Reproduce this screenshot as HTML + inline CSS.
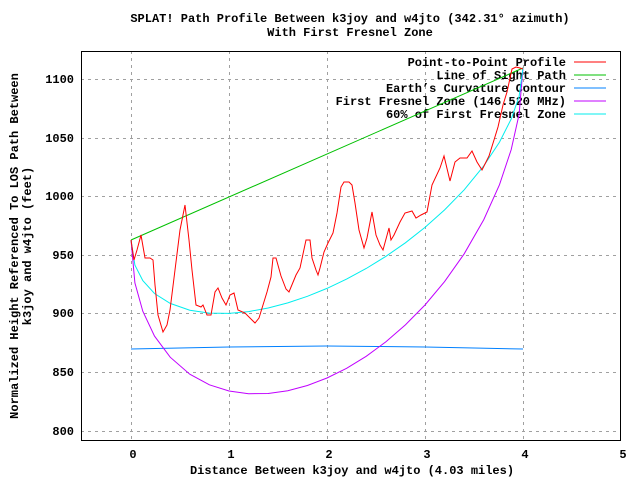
<!DOCTYPE html>
<html><head><meta charset="utf-8"><style>
body{margin:0;background:#fff}
svg text{font-family:"Liberation Mono",monospace;font-size:12px;font-weight:bold;fill:#000}
</style></head><body>
<svg width="640" height="480" xmlns="http://www.w3.org/2000/svg">
<rect width="640" height="480" fill="#fff"/>
<g stroke="#a0a0a0" stroke-dasharray="3,4" stroke-width="1">
<line x1="81" y1="79.5" x2="620" y2="79.5"/><line x1="81" y1="138.5" x2="620" y2="138.5"/>
<line x1="81" y1="196.5" x2="620" y2="196.5"/><line x1="81" y1="255.5" x2="620" y2="255.5"/>
<line x1="81" y1="313.5" x2="620" y2="313.5"/><line x1="81" y1="372.5" x2="620" y2="372.5"/>
<line x1="81" y1="431.5" x2="620" y2="431.5"/>
<line x1="131.5" y1="51" x2="131.5" y2="440"/><line x1="229.5" y1="51" x2="229.5" y2="440"/>
<line x1="327.5" y1="51" x2="327.5" y2="440"/><line x1="425.5" y1="51" x2="425.5" y2="440"/>
<line x1="523.5" y1="51" x2="523.5" y2="440"/>
</g>
<rect x="81.5" y="51.5" width="539" height="389" fill="none" stroke="#000"/>
<g text-anchor="end">
<text x="74" y="83">1100</text><text x="74" y="142">1050</text><text x="74" y="200">1000</text>
<text x="74" y="259">950</text><text x="74" y="317">900</text><text x="74" y="376">850</text><text x="74" y="435">800</text>
</g>
<g text-anchor="middle">
<text x="133" y="458">0</text><text x="231" y="458">1</text><text x="329" y="458">2</text>
<text x="427" y="458">3</text><text x="525" y="458">4</text><text x="623" y="458">5</text>
<text x="350" y="22">SPLAT! Path Profile Between k3joy and w4jto (342.31° azimuth)</text>
<text x="350" y="36">With First Fresnel Zone</text>
<text x="352" y="474">Distance Between k3joy and w4jto (4.03 miles)</text>
<text transform="translate(18,246) rotate(-90)">Normalized Height Referenced To LOS Path Between</text>
<text transform="translate(31,246) rotate(-90)">k3joy and w4jto (feet)</text>
</g>
<g text-anchor="end">
<text x="566" y="66">Point-to-Point Profile</text>
<text x="566" y="79">Line of Sight Path</text>
<text x="566" y="92">Earth’s Curvature Contour</text>
<text x="566" y="105">First Fresnel Zone (146.520 MHz)</text>
<text x="566" y="118">60% of First Fresnel Zone</text>
</g>
<g stroke-width="1" fill="none">
<line x1="574" y1="62" x2="606" y2="62" stroke="#ff0000"/>
<line x1="574" y1="75" x2="606" y2="75" stroke="#00c000"/>
<line x1="574" y1="88" x2="606" y2="88" stroke="#0080ff"/>
<line x1="574" y1="101" x2="606" y2="101" stroke="#c000ff"/>
<line x1="574" y1="114" x2="606" y2="114" stroke="#00eeee"/>
<path stroke="#0080ff" d="M131,349 L180,348 L229,347 L278,346.5 L327,346 L376,346.5 L425,347 L474,348 L523,349"/>
<line x1="131" y1="240" x2="523" y2="68" stroke="#00c000"/>
<path stroke="#c000ff" d="M131,240 L134.9,282.9 L142.8,311.2 L154.5,336.1 L170.2,357.2 L189.8,374.2 L209.4,384.8 L229,391 L248.6,393.7 L268.2,393.5 L287.8,390.7 L307.4,385.5 L327,378 L346.6,368.3 L366.2,356.3 L385.8,341.9 L405.4,324.9 L425,305 L444.6,281.6 L464.2,253.8 L483.8,219.6 L499.5,184.7 L511.2,149.6 L519.1,114.3 L523,68"/>
<path stroke="#00eeee" d="M131,240 L134.9,265.1 L142.8,280.6 L154.5,293.5 L170.2,303.4 L189.8,310.2 L209.4,313.1 L229,313.4 L248.6,311.6 L268.2,308 L287.8,302.9 L307.4,296.3 L327,288.4 L346.6,279.1 L366.2,268.5 L385.8,256.4 L405.4,242.8 L425,227.4 L444.6,209.9 L464.2,189.8 L483.8,165.8 L499.5,142.1 L511.2,119 L519.1,96.5 L523,68"/>
<path stroke="#ff0000" d="M131,240 L134,260 L137,250 L141,235 L145,258 L150,258 L153,260 L155,285 L158,315 L163,332 L167,325 L170,310 L175,270 L180,230 L185,205 L189,240 L192,270 L196,305 L201,307 L203,305 L207,315 L211,315 L215,292 L218,288 L222,298 L226,305 L230,295 L234,293 L238,310 L245,313 L255,323 L259,318 L263,305 L267,292 L271,277 L273,258 L276,258 L281,276 L286,289 L289,292 L296,275 L300,268 L306,240 L310,240 L312,258 L316,270 L318,275 L320,268 L324,252 L328,243 L333,233 L337,213 L341,187 L344,182 L349,182 L352,185 L355,203 L359,230 L364,248 L367,238 L372,212 L376,235 L380,245 L383,250 L389,228 L391,240 L394,235 L400,222 L405,213 L412,211 L416,218 L421,215 L427,212 L432,185 L440,168 L444,156 L450,181 L455,162 L460,158 L467,158 L472,151 L477,162 L482,170 L489,156 L494,140 L498,127 L503,105 L507,92 L512,69 L516,67 L520,68 L523,69"/>
</g>
</svg>
</body></html>
